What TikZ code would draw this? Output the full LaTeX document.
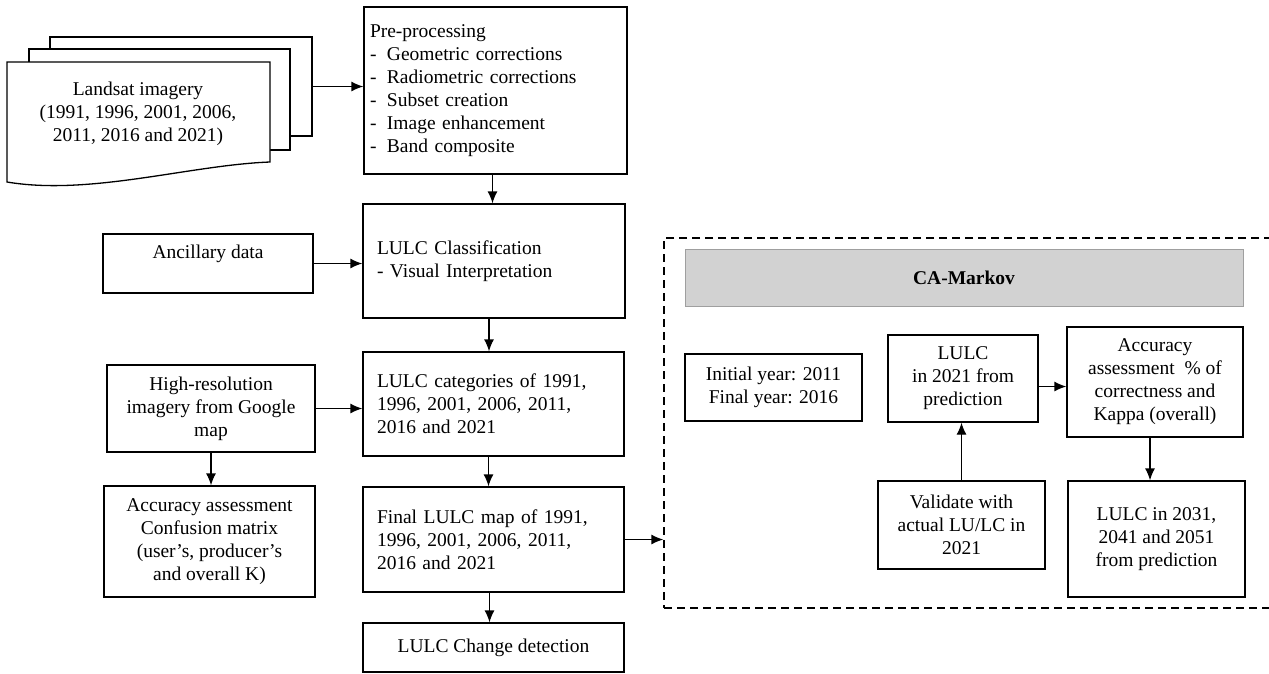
\documentclass[tikz,border=0pt]{standalone}
\usepackage{fontspec}
\setmainfont{Liberation Serif}
\usepackage{tikz}
\usetikzlibrary{arrows.meta, calc, positioning}

\begin{document}
\begin{tikzpicture}[x=1pt, y=-1pt, line width=1.3pt,
    >={Latex[length=12pt,width=10pt]},
    font=\fontsize{19.5}{23}\selectfont,
    box/.style={draw, rectangle, align=center, inner sep=3pt},
    leftbox/.style={draw, rectangle, align=left, inner ysep=3pt},
    page/.style={draw, fill=white, rectangle, inner sep=0pt}]
\useasboundingbox (0,0) rectangle (1269,673);

% Landsat stack
\node[page, minimum width=262pt, minimum height=99pt] (land3) at (181,86.5) {};
\node[page, minimum width=261pt, minimum height=101pt] (land2) at (159.5,99.5) {};
\draw[fill=white] (7,62) -- (270,62) -- (270,162) .. controls (190,165) and (90,196) .. (7,182) -- cycle;
\node[align=center] (land) at (138,114) {Landsat imagery\\(1991, 1996, 2001, 2006,\\2011, 2016 and 2021)};

% main column
\node[leftbox, text width=251pt, inner xsep=6pt, minimum height=167pt] (pre) at (495.5,90.5)
    {Pre-processing\\
     -\hspace{10.5pt}Geometric corrections\\
     -\hspace{10.5pt}Radiometric corrections\\
     -\hspace{10.5pt}Subset creation\\
     -\hspace{10.5pt}Image enhancement\\
     -\hspace{10.5pt}Band composite};
\node[leftbox, text width=234pt, inner xsep=14pt, minimum height=114pt] (cls) at (494,261)
    {LULC Classification\\- Visual Interpretation};
\node[leftbox, text width=233pt, inner xsep=14pt, minimum height=104pt] (cat) at (493.5,404)
    {\makebox[228pt][s]{LULC categories of 1991,}\\\makebox[228pt][s]{1996, 2001, 2006, 2011,}\\2016 and 2021};
\node[leftbox, text width=233pt, inner xsep=14pt, minimum height=105pt] (fin) at (493.5,539.5)
    {\makebox[228pt][s]{Final LULC map of 1991,}\\\makebox[228pt][s]{1996, 2001, 2006, 2011,}\\2016 and 2021};
\node[box, minimum width=261pt, minimum height=49pt] (chg) at (493.5,647.5) {LULC Change detection};

% left column
\node[box, minimum width=210pt, minimum height=59pt] (anc) at (208,263.5) {Ancillary data\\\mbox{}};
\node[box, minimum width=208pt, minimum height=87pt] (hires) at (211,408.5)
    {High-resolution\\imagery from Google\\map};
\node[box, minimum width=211pt, minimum height=111pt] (acc) at (209.5,541.5)
    {Accuracy assessment\\Confusion matrix\\(user’s, producer’s\\and overall K)};

% CA-Markov part
\node[draw, dash pattern=on 8pt off 5pt, inner sep=0pt, minimum width=626pt, minimum height=370pt] (ca) at (977,423) {};
\node[draw=gray!75, fill=gray!35, line width=0.8pt, minimum width=558pt, minimum height=57pt] (banner) at (964,277.5)
    {\textbf{CA-Markov}};
\node[box, minimum width=177pt, minimum height=67pt] (init) at (773.5,387.5) {Initial year: 2011\\Final year: 2016};
\node[box, minimum width=150pt, minimum height=87pt] (pred) at (963,378.5) {LULC\\in 2021 from\\prediction};
\node[box, minimum width=176pt, minimum height=110pt] (acc2) at (1155,382)
    {Accuracy\\assessment \ \% of\\correctness and\\Kappa (overall)};
\node[box, minimum width=167pt, minimum height=88pt] (valid) at (961.5,525) {Validate with\\actual LU/LC in\\2021};
\node[box, minimum width=177pt, minimum height=116pt] (fut) at (1156.5,539) {LULC in 2031,\\2041 and 2051\\from prediction};

% connectors
\draw[->] (land3.east) -- (land3.east -| pre.west);
\draw[->] ([xshift=-3pt]pre.south) -- ([xshift=-3pt]pre.south |- cls.north);
\draw[->] (anc.east) -- (anc.east -| cls.west);
\draw[->] ([xshift=-5pt]cls.south) -- ([xshift=-5pt]cls.south |- cat.north);
\draw[->] (hires.east) -- (hires.east -| cat.west);
\draw[->] ([xshift=-5pt]cat.south) -- ([xshift=-5pt]cat.south |- fin.north);
\draw[->] (hires.south) -- (hires.south |- acc.north);
\draw[->] ([xshift=-4pt]fin.south) -- ([xshift=-4pt]fin.south |- chg.north);
\draw[->] (fin.east) -- (fin.east -| ca.west);
\draw[->] ([yshift=-8pt]pred.east) -- ([yshift=-8pt]pred.east -| acc2.west);
\draw[->] (valid.north) -- (valid.north |- pred.south);
\draw[->] ([xshift=-5pt]acc2.south) -- ([xshift=-5pt]acc2.south |- fut.north);
\end{tikzpicture}
\end{document}
